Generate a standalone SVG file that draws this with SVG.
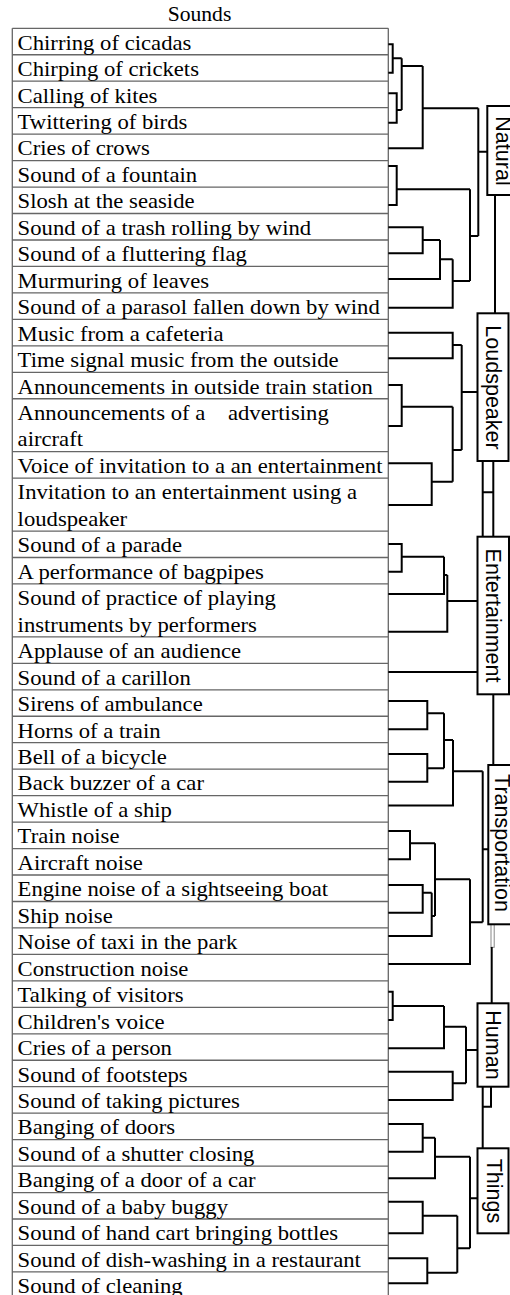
<svg xmlns="http://www.w3.org/2000/svg" width="510" height="1295" viewBox="0 0 510 1295">
<style>
.t{font-family:"Liberation Serif","Times New Roman",serif;font-size:21.4px;fill:#000}
.ttl{font-family:"Liberation Serif","Times New Roman",serif;font-size:20.4px;fill:#000}
.grid{stroke:#666;stroke-width:1.3;fill:none}
.c{stroke:#000;stroke-width:2;fill:none}
.thin{stroke:#888;stroke-width:1;fill:#fff}
.box{fill:#fff;stroke:#000;stroke-width:2}
.lab{font-family:"Liberation Sans",Arial,sans-serif;font-size:21.5px;fill:#000;text-anchor:middle}
</style>
<rect width="510" height="1295" fill="#fff"/>
<g id="table">
<path class="grid" d="M12.3 28.3 V1300 M388.3 28.3 V1300 M12.3 28.3 H388.3 M12.3 54.76 H388.3 M12.3 81.22 H388.3 M12.3 107.68 H388.3 M12.3 134.14 H388.3 M12.3 160.6 H388.3 M12.3 187.06 H388.3 M12.3 213.52 H388.3 M12.3 239.98 H388.3 M12.3 266.44 H388.3 M12.3 292.9 H388.3 M12.3 319.36 H388.3 M12.3 345.82 H388.3 M12.3 372.28 H388.3 M12.3 398.74 H388.3 M12.3 451.66 H388.3 M12.3 478.12 H388.3 M12.3 531.04 H388.3 M12.3 557.5 H388.3 M12.3 583.96 H388.3 M12.3 636.88 H388.3 M12.3 663.34 H388.3 M12.3 689.8 H388.3 M12.3 716.26 H388.3 M12.3 742.72 H388.3 M12.3 769.18 H388.3 M12.3 795.64 H388.3 M12.3 822.1 H388.3 M12.3 848.56 H388.3 M12.3 875.02 H388.3 M12.3 901.48 H388.3 M12.3 927.94 H388.3 M12.3 954.4 H388.3 M12.3 980.86 H388.3 M12.3 1007.32 H388.3 M12.3 1033.78 H388.3 M12.3 1060.24 H388.3 M12.3 1086.7 H388.3 M12.3 1113.16 H388.3 M12.3 1139.62 H388.3 M12.3 1166.08 H388.3 M12.3 1192.54 H388.3 M12.3 1219 H388.3 M12.3 1245.46 H388.3 M12.3 1271.92 H388.3"/>
</g>
<g id="rows" transform="scale(1.06 1)">
<g id="title"><text class="ttl" x="188.2" y="20.8" text-anchor="middle">Sounds</text></g>
<g id="row01"><text class="t" x="16.6" y="49.6">Chirring of cicadas</text></g>
<g id="row02"><text class="t" x="16.6" y="76.06">Chirping of crickets</text></g>
<g id="row03"><text class="t" x="16.6" y="102.52">Calling of kites</text></g>
<g id="row04"><text class="t" x="16.6" y="128.98">Twittering of birds</text></g>
<g id="row05"><text class="t" x="16.6" y="155.44">Cries of crows</text></g>
<g id="row06"><text class="t" x="16.6" y="181.9">Sound of a fountain</text></g>
<g id="row07"><text class="t" x="16.6" y="208.36">Slosh at the seaside</text></g>
<g id="row08"><text class="t" x="16.6" y="234.82">Sound of a trash rolling by wind</text></g>
<g id="row09"><text class="t" x="16.6" y="261.28">Sound of a fluttering flag</text></g>
<g id="row10"><text class="t" x="16.6" y="287.74">Murmuring of leaves</text></g>
<g id="row11"><text class="t" x="16.6" y="314.2">Sound of a parasol fallen down by wind</text></g>
<g id="row12"><text class="t" x="16.6" y="340.66">Music from a cafeteria</text></g>
<g id="row13"><text class="t" x="16.6" y="367.12">Time signal music from the outside</text></g>
<g id="row14"><text class="t" x="16.6" y="393.58">Announcements in outside train station</text></g>
<g id="row15"><text class="t" xml:space="preserve"><tspan x="16.6" y="420.04">Announcements of a    advertising</tspan><tspan x="16.6" y="446.5">aircraft</tspan></text></g>
<g id="row16"><text class="t" x="16.6" y="472.96">Voice of invitation to a an entertainment</text></g>
<g id="row17"><text class="t"><tspan x="16.6" y="499.42">Invitation to an entertainment using a</tspan><tspan x="16.6" y="525.88">loudspeaker</tspan></text></g>
<g id="row18"><text class="t" x="16.6" y="552.34">Sound of a parade</text></g>
<g id="row19"><text class="t" x="16.6" y="578.8">A performance of bagpipes</text></g>
<g id="row20"><text class="t"><tspan x="16.6" y="605.26">Sound of practice of playing</tspan><tspan x="16.6" y="631.72">instruments by performers</tspan></text></g>
<g id="row21"><text class="t" x="16.6" y="658.18">Applause of an audience</text></g>
<g id="row22"><text class="t" x="16.6" y="684.64">Sound of a carillon</text></g>
<g id="row23"><text class="t" x="16.6" y="711.1">Sirens of ambulance</text></g>
<g id="row24"><text class="t" x="16.6" y="737.56">Horns of a train</text></g>
<g id="row25"><text class="t" x="16.6" y="764.02">Bell of a bicycle</text></g>
<g id="row26"><text class="t" x="16.6" y="790.48">Back buzzer of a car</text></g>
<g id="row27"><text class="t" x="16.6" y="816.94">Whistle of a ship</text></g>
<g id="row28"><text class="t" x="16.6" y="843.4">Train noise</text></g>
<g id="row29"><text class="t" x="16.6" y="869.86">Aircraft noise</text></g>
<g id="row30"><text class="t" x="16.6" y="896.32">Engine noise of a sightseeing boat</text></g>
<g id="row31"><text class="t" x="16.6" y="922.78">Ship noise</text></g>
<g id="row32"><text class="t" x="16.6" y="949.24">Noise of taxi in the park</text></g>
<g id="row33"><text class="t" x="16.6" y="975.7">Construction noise</text></g>
<g id="row34"><text class="t" x="16.6" y="1002.16">Talking of visitors</text></g>
<g id="row35"><text class="t" x="16.6" y="1028.62">Children's voice</text></g>
<g id="row36"><text class="t" x="16.6" y="1055.08">Cries of a person</text></g>
<g id="row37"><text class="t" x="16.6" y="1081.54">Sound of footsteps</text></g>
<g id="row38"><text class="t" x="16.6" y="1108">Sound of taking pictures</text></g>
<g id="row39"><text class="t" x="16.6" y="1134.46">Banging of doors</text></g>
<g id="row40"><text class="t" x="16.6" y="1160.92">Sound of a shutter closing</text></g>
<g id="row41"><text class="t" x="16.6" y="1187.38">Banging of a door of a car</text></g>
<g id="row42"><text class="t" x="16.6" y="1213.84">Sound of a baby buggy</text></g>
<g id="row43"><text class="t" x="16.6" y="1240.3">Sound of hand cart bringing bottles</text></g>
<g id="row44"><text class="t" x="16.6" y="1266.76">Sound of dish-washing in a restaurant</text></g>
<g id="row45"><text class="t" x="16.6" y="1293.22">Sound of cleaning</text></g>
</g>
<g id="connectors">
<path class="c" d="M388.3 44.3 H392.7 V72.7 H388.3 M392.7 58.3 H401.7 M388.3 93.3 H396.7 V122.7 H388.3 M396.7 110 H401.7 M401.7 58.3 V110 M401.7 66 H422.7 M388.3 148.3 H422.7 V66 M422.7 108.3 H478.3 M388.3 166 H396.7 V205 H388.3 M396.7 189.3 H470 M388.3 227.3 H422.7 V253.3 H388.3 M422.7 240 H440 M388.3 279 H440 V240 M440 259.3 H452.7 M388.3 307.7 H452.7 V259.3 M452.7 281 H470 M470 189.3 V281 M470 236 H478.3 M478.3 108.3 V236 M478.3 151.7 H487.3"/>
<path class="c" d="M495 195 V313.3"/>
<path class="c" d="M388.3 332.7 H452.7 V358.3 H388.3 M452.7 345 H461.7 M388.3 385 H401.7 V426 H388.3 M401.7 406.7 H452.7 M388.3 463.3 H431.7 V505 H388.3 M431.7 481.7 H452.7 M452.7 406.7 V481.7 M452.7 450 H461.7 M461.7 345 V450 M461.7 392 H477.5"/>
<path class="c" d="M482.7 461 V536.7 M493.3 461 V536.7 M482.7 492.3 H493.3"/>
<path class="c" d="M388.3 544 H401.7 V571.7 H388.3 M401.7 556.7 H444 M388.3 594 H444 V556.7 M444 575 H447.3 M388.3 631.7 H447.3 V575 M447.3 601 H477.5 M388.3 672 H477.5"/>
<path class="c" d="M493.3 694.3 V765"/>
<path class="c" d="M388.3 701 H427.3 V729.3 H388.3 M427.3 713.3 H444 M388.3 754 H427.3 V781.7 H388.3 M427.3 768.3 H444 M444 713.3 V768.3 M444 740 H453 M388.3 805.5 H453 V740 M453 771.2 H482.7 M388.3 831 H410 V859.3 H388.3 M410 843.3 H435 M388.3 885 H422.7 V912.7 H388.3 M422.7 892.7 H431.7 M388.3 936 H431.7 V892.7 M431.7 916 H435 M435 843.3 V916 M435 879.3 H470 M388.3 964 H470 V879.3 M470 922.3 H482.7 M482.7 771.2 V922.3 M482.7 849.3 H488.3"/>
<rect class="thin" x="491" y="924.3" width="3.2" height="23"/>
<path class="c" d="M491.7 947 V1003.3"/>
<path class="c" d="M388.3 991.7 H392.7 V1020 H388.3 M392.7 1006 H444 M388.3 1048.3 H444 V1006 M444 1026.7 H466 M388.3 1071.7 H452.7 V1100 H388.3 M452.7 1083.3 H466 M466 1026.7 V1083.3 M466 1050 H477.5"/>
<path class="c" d="M482.7 1086.7 V1148.3 M491 1086.7 V1106.7 H482.7"/>
<path class="c" d="M388.3 1124 H422.7 V1151.7 H388.3 M422.7 1137.7 H435 M388.3 1178.3 H435 V1137.7 M435 1156.7 H470 M388.3 1201.7 H422.7 V1233.3 H388.3 M422.7 1215.7 H457.3 M388.3 1258.3 H427.3 V1283.3 H388.3 M427.3 1272.7 H457.3 M457.3 1215.7 V1272.7 M457.3 1248.3 H470 M470 1156.7 V1248.3 M470 1198.3 H477.5"/>
</g>
<g id="cat-natural"><rect class="box" x="487.3" y="106" width="30" height="89"/><text class="lab" transform="translate(495.5 151) rotate(90)">Natural</text></g>
<g id="cat-loudspeaker"><rect class="box" x="477.5" y="313.3" width="31" height="147.7"/><text class="lab" transform="translate(485.5 387.5) rotate(90)">Loudspeaker</text></g>
<g id="cat-entertainment"><rect class="box" x="477.5" y="536.7" width="31.5" height="157.6"/><text class="lab" transform="translate(485.5 615.5) rotate(90)">Entertainment</text></g>
<g id="cat-transportation"><rect class="box" x="488.3" y="765" width="30" height="159.3"/><text class="lab" transform="translate(495 843) rotate(90)">Transportation</text></g>
<g id="cat-human"><rect class="box" x="477.5" y="1003.3" width="31" height="83.4"/><text class="lab" transform="translate(485.5 1045) rotate(90)">Human</text></g>
<g id="cat-things"><rect class="box" x="477.5" y="1148.3" width="31" height="85"/><text class="lab" transform="translate(487 1191) rotate(90)">Things</text></g>
</svg>
